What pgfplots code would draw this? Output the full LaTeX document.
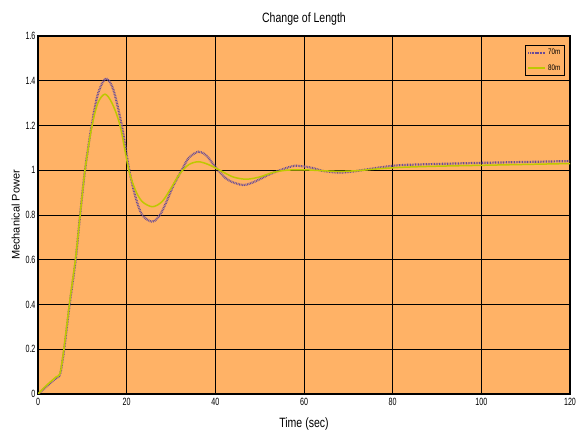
\documentclass[border=0pt]{standalone}
\usepackage{fontspec}
\setmainfont{Liberation Sans}
\newfontfamily\narrow[FakeStretch=0.78]{Liberation Sans}
\newfontfamily\tnarrow[FakeStretch=0.68]{Liberation Sans}
\usepackage{pgfplots}
\pgfplotsset{compat=1.18}
\definecolor{bgor}{RGB}{255,178,102}
\definecolor{purp}{RGB}{105,75,150}
\definecolor{ygr}{RGB}{190,200,0}
\begin{document}
\begin{tikzpicture}
\begin{axis}[
  scale only axis, width=532pt, height=358pt,
  xmin=0, xmax=120, ymin=0, ymax=1.6,
  xtick={0,20,...,120}, ytick={0,0.2,...,1.6},
  yticklabel style={/pgf/number format/fixed,/pgf/number format/precision=1, xshift=1pt},
  /pgf/number format/assume math mode=true,
  ticklabel style={font=\tnarrow\fontsize{10.5}{11}\selectfont},
  xticklabel style={yshift=-1pt},
  grid=major, major grid style={black, line width=0.9pt},
  axis background/.style={fill=bgor},
  axis line style={black, line width=1.2pt},
  tick style={black, line width=0.5pt}, major tick length=2pt,
  tick align=inside,
  title={\narrow\fontsize{13.5}{15}\selectfont Change of Length},
  title style={yshift=1pt},
  xlabel={\narrow\fontsize{13.5}{15}\selectfont Time (sec)},
  xlabel style={yshift=-5pt},
  ylabel={\fontsize{11}{12}\selectfont Mechanical Power},
  ylabel style={yshift=-1pt},
  legend style={at={(0.99,0.975)}, anchor=north east, draw=black, line width=0.8pt, fill=bgor,
    font=\narrow\fontsize{8}{9}\selectfont, inner sep=2pt, row sep=4pt},
  legend cell align=right,
  legend image post style={line width=1.5pt},
]
\addplot[purp, line width=2.2pt, dash pattern=on 0.8pt off 0.8pt, smooth, tension=0.5] coordinates {
(0,0) (2,0.035) (4,0.07) (5,0.09) (5.9,0.2) (7.2,0.41) (8.5,0.6) (9.5,0.8) (10.6,1.0) (12.1,1.2)
(13.5,1.34) (15.3,1.41) (17,1.36) (18.9,1.2) (20.6,1.0) (22,0.88) (23.5,0.8) (25.8,0.77)
(27.5,0.8) (29,0.86) (30.5,0.93) (32.4,1.0) (34,1.055) (36.2,1.083) (38,1.065) (40.6,1.0)
(43,0.955) (46.3,0.934) (49,0.95) (52,0.98) (54.6,1.0) (58,1.02) (62,1.01) (64,0.998)
(67.4,0.99) (70,0.992) (74,1.003) (78,1.015) (82,1.023) (90,1.028) (100,1.033) (110,1.037) (120,1.041)
};
\addlegendentry{70m}
\addplot[ygr, line width=1.5pt, smooth, tension=0.5] coordinates {
(0,0) (2,0.04) (4,0.075) (5,0.095) (5.9,0.21) (7.2,0.42) (8.5,0.61) (9.5,0.8) (10.6,1.0) (12.1,1.19)
(13.5,1.3) (15.1,1.34) (16.7,1.3) (18.5,1.2) (20.5,1.0) (22,0.91) (23.5,0.86) (25.8,0.837)
(28,0.86) (30,0.92) (32,0.985) (34,1.025) (36.2,1.038) (38.5,1.025) (41,1.0)
(44,0.97) (47,0.96) (50,0.97) (53,0.99) (56,1.0) (60,1.002) (64,0.998)
(68,0.995) (72,0.998) (76,1.005) (82,1.013) (90,1.018) (100,1.022) (110,1.026) (120,1.03)
};
\addlegendentry{80m}
\end{axis}
\path (current axis.south west) ++(-38pt,-44pt) rectangle ([shift={(10pt,36pt)}]current axis.north east);
\end{tikzpicture}
\end{document}
